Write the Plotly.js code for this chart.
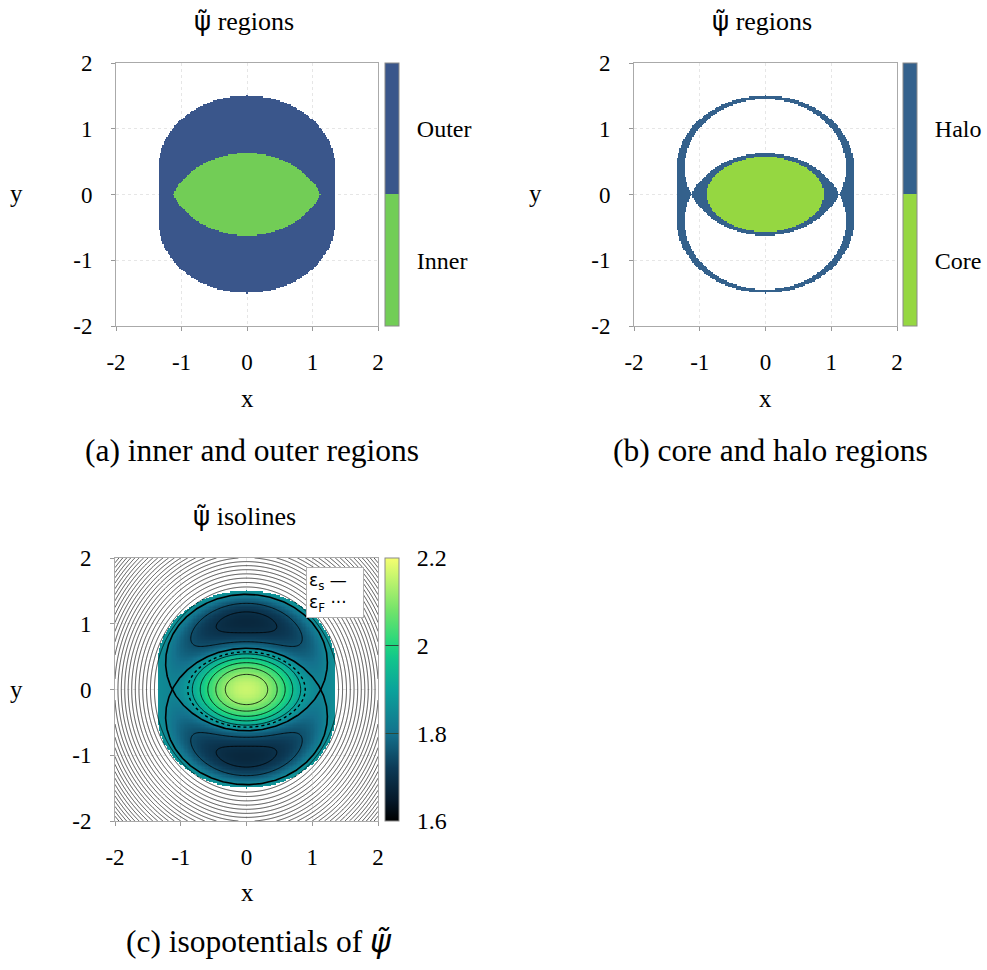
<!DOCTYPE html>
<html><head><meta charset="utf-8">
<script src="https://cdn.plot.ly/plotly-3.0.1.min.js"></script>
<style>html,body{margin:0;padding:0;background:#fff}#chart{width:987px;height:970px}</style>
</head><body><div id="chart"></div>
<script>
// ---------- values ----------
const axisTicks = [-2, -1, 0, 1, 2];
const axisTickText = ['-2', '-1', '0', '1', '2'];
const regionNamesA = ['Inner', 'Outer'];
const regionNamesB = ['Core', 'Halo'];
const regionColorsA = ['#72cd56', '#3a568b'];
const regionColorsB = ['#95d741', '#34618c'];
const psiTicks = [1.6, 1.8, 2.0, 2.2];
const psiTickText = ['1.6', '1.8', '2', '2.2'];
// separatrix (eps_s) ellipses: centres on the y axis and semi-axes [a, b]
const separatrixCentresY = [0.41, -0.41];
const separatrixSemiAxes = [1.23, 1.0375];
// outer boundary of the coloured region: half-width and cap semi-height
const regionSemiAxes = [1.35, 1.09];
// psi values
const psiSeparatrix = 1.84;   // eps_s
const psiFermi = 1.885;       // eps_F (dotted)
const psiCentre = 2.16;
const psiWellMin = 1.68;
const psiRim = 1.875;
const wellSkew = 0.6;
const lensLevels = [1.91, 2.11, 0.05];   // start, end, step
const wellLevels = [1.70, 1.75, 0.05];
// isolines outside the region
const outerIsoFirstRadius = 1.40;
const outerIsoAspect = 1.114;
const outerIsoExponent = 1.6;
const outerIsoStep = 0.121;
// colour scale of panel (c)
const psiColors = [
  [0, '#000000'], [0.08, '#06192a'], [0.2, '#0c3a56'], [0.333, '#14718d'],
  [0.5, '#0ba39b'], [0.62, '#13c68b'], [0.667, '#1fd67e'], [0.8, '#72e36a'], [1, '#f6ff70']
];

// ---------- grid ----------
const N = 201;
const xs = [], ys = [];
for (let i = 0; i < N; i++) { xs.push(-2 + 4 * i / (N - 1)); ys.push(-2 + 4 * i / (N - 1)); }
const A = separatrixSemiAxes[0], B = separatrixSemiAxes[1], c = separatrixCentresY[0];
const Ao = regionSemiAxes[0], Bo = regionSemiAxes[1];
function inRegion(x, y) {
  const ay = Math.abs(y);
  if (ay <= c) return Math.abs(x) <= Ao;
  return x * x / (Ao * Ao) + (ay - c) * (ay - c) / (Bo * Bo) <= 1;
}
const P = [], K = [];   // shape function and class: 0 lens, 1 well, 2 rim, -1 outside
let maxWell = 0, maxRim = 0;
for (let j = 0; j < N; j++) {
  const pr = [], kr = [];
  for (let i = 0; i < N; i++) {
    const x = xs[i], y = ys[j];
    const t = x * x / (A * A);
    const u1 = t + (y - c) * (y - c) / (B * B), u2 = t + (y + c) * (y + c) / (B * B);
    let p = (1 - u1) * (1 - u2);
    let k;
    if (!inRegion(x, y)) k = -1;
    else if (u1 < 1 && u2 < 1) k = 0;
    else if (u1 < 1 || u2 < 1) {
      k = 1;
      const uin = Math.min(u1, u2), uout = Math.max(u1, u2);
      p = -(1 - uin) * Math.pow(uout - 1, wellSkew);
      maxWell = Math.max(maxWell, -p);
    }
    else { k = 2; maxRim = Math.max(maxRim, p); }
    pr.push(p); kr.push(k);
  }
  P.push(pr); K.push(kr);
}
const kL = (psiCentre - psiSeparatrix) / Math.pow(1 - c * c / (B * B), 2);
const kW = (psiSeparatrix - psiWellMin) / maxWell;
const kR = (psiRim - psiSeparatrix) / maxRim;
const zA = [], zB = [], zPsi = [], zPsiC = [], zOut = [];
for (let j = 0; j < N; j++) {
  const a = [], b = [], s = [], sc = [], o = [];
  for (let i = 0; i < N; i++) {
    const k = K[j][i], p = P[j][i];
    let psi = NaN;
    if (k === 0) psi = psiSeparatrix + kL * p;
    else if (k === 1) psi = psiSeparatrix + kW * p;
    else if (k === 2) psi = psiSeparatrix + kR * p;
    s.push(k < 0 ? NaN : psi);
    sc.push(k < 0 ? psiRim : psi);
    a.push(k < 0 ? NaN : (k === 0 ? 0 : 1));
    b.push(k < 0 || k === 1 ? NaN : (k === 0 && psi > psiFermi ? 0 : 1));
    const rho = Math.sqrt(xs[i] * xs[i] + Math.pow(ys[j] / outerIsoAspect, 2));
    o.push(Math.pow(rho, outerIsoExponent));
  }
  zA.push(a); zB.push(b); zPsi.push(s); zPsiC.push(sc); zOut.push(o);
}
// separatrix ellipses
function ellipse(cy) {
  const ex = [], ey = [];
  for (let n = 0; n <= 360; n++) {
    const th = n * Math.PI / 180;
    ex.push(A * Math.cos(th)); ey.push(cy + B * Math.sin(th));
  }
  return [ex, ey];
}

// ---------- layout helpers ----------
const W = 987, H = 970;
const px = v => v / W, py = v => 1 - v / H;
const SERIF = 'Liberation Serif';
const tickFont = {family: SERIF, size: 23, color: '#000'};
function axis(dom, anchor, isY) {
  return {
    domain: dom, anchor: anchor, range: [-2, 2], tickmode: 'array', tickvals: axisTicks,
    ticktext: axisTickText, ticks: 'outside', ticklen: 4, tickcolor: '#999', showline: true,
    mirror: true, linecolor: '#aaa', linewidth: 1, showgrid: true, gridcolor: '#e6e6e6',
    griddash: 'dot', zeroline: false, tickfont: tickFont, fixedrange: true,
    ticklabelstandoff: isY ? 14 : 11
  };
}
function discreteScale(cols) {
  return [[0, cols[0]], [0.5, cols[0]], [0.5, cols[1]], [1, cols[1]]];
}
const nb = '\u00a0\u00a0';
function cbar(left, centre, len, extra) {
  return Object.assign({
    x: px(left), xanchor: 'left', y: py(centre), yanchor: 'middle',
    len: len / H, lenmode: 'fraction', thickness: 14, thicknessmode: 'pixels',
    xpad: 0, ypad: 0, outlinewidth: 1, outlinecolor: '#8a8a8a',
    tickfont: {family: SERIF, size: 24, color: '#000'}
  }, extra);
}

const traces = [
  {type: 'heatmap', x: xs, y: ys, z: zA, xaxis: 'x', yaxis: 'y', zmin: 0, zmax: 1,
   colorscale: discreteScale(regionColorsA), hoverinfo: 'skip',
   colorbar: cbar(385, 194.5, 263, {tickmode: 'array', tickvals: [0.25, 0.75],
     ticktext: regionNamesA.map(t => nb + t), ticks: ''})},
  {type: 'heatmap', x: xs, y: ys, z: zB, xaxis: 'x2', yaxis: 'y2', zmin: 0, zmax: 1,
   colorscale: discreteScale(regionColorsB), hoverinfo: 'skip',
   colorbar: cbar(903, 194.5, 263, {tickmode: 'array', tickvals: [0.25, 0.75],
     ticktext: regionNamesB.map(t => nb + t), ticks: ''})},
  {type: 'contour', x: xs, y: ys, z: zOut, xaxis: 'x3', yaxis: 'y3', showscale: false,
   contours: {coloring: 'none', start: Math.pow(outerIsoFirstRadius, outerIsoExponent), end: 8, size: outerIsoStep},
   line: {color: '#000', width: 0.7, smoothing: 0}, hoverinfo: 'skip'},
  {type: 'heatmap', x: xs, y: ys, z: zPsi, xaxis: 'x3', yaxis: 'y3', zmin: 1.6, zmax: 2.2,
   colorscale: psiColors, hoverinfo: 'skip',
   colorbar: cbar(385, 689.5, 263, {tickmode: 'array', tickvals: psiTicks,
     ticktext: psiTickText.map(t => nb + t), ticks: 'inside', ticklen: 14, tickcolor: '#2a4a3a', tickwidth: 1})},
  {type: 'contour', x: xs, y: ys, z: zPsiC, xaxis: 'x3', yaxis: 'y3', showscale: false,
   contours: {coloring: 'none', start: lensLevels[0], end: lensLevels[1], size: lensLevels[2]},
   line: {color: '#000', width: 0.8}, hoverinfo: 'skip'},
  {type: 'contour', x: xs, y: ys, z: zPsiC, xaxis: 'x3', yaxis: 'y3', showscale: false,
   contours: {coloring: 'none', start: wellLevels[0], end: wellLevels[1], size: wellLevels[2]},
   line: {color: '#000', width: 0.8}, hoverinfo: 'skip'},
  {type: 'contour', x: xs, y: ys, z: zPsiC, xaxis: 'x3', yaxis: 'y3', showscale: false,
   contours: {coloring: 'none', start: psiFermi, end: psiFermi, size: 1},
   line: {color: '#000', width: 1.4, dash: 'dot'}, hoverinfo: 'skip', name: '\u03b5F'},
];
separatrixCentresY.forEach(cy => {
  const e = ellipse(cy);
  traces.push({type: 'scatter', mode: 'lines', x: e[0], y: e[1], xaxis: 'x3', yaxis: 'y3',
    line: {color: '#000', width: 1.6}, showlegend: false, hoverinfo: 'skip', name: '\u03b5s'});
});

const capFont = {family: 'Liberation Serif', size: 31.5, color: '#000'};
const titleFont = {family: SERIF, size: 26, color: '#000'};
const labFont = {family: SERIF, size: 25, color: '#000'};
function ann(text, x, y, font, extra) {
  return Object.assign({text: text, x: px(x), y: py(y), xref: 'paper', yref: 'paper',
    showarrow: false, xanchor: 'center', yanchor: 'middle', font: font}, extra || {});
}
const psiT = '<span style="font-family:DejaVu Sans">\u03c8\u0303</span>';
const annotations = [
  ann(psiT + ' regions', 244, 21, titleFont),
  ann(psiT + ' regions', 762, 21, titleFont),
  ann(psiT + ' isolines', 244, 516, titleFont),
  ann('x', 247, 398, labFont), ann('x', 765, 398, labFont), ann('x', 247, 892, labFont),
  ann('y', 16, 194, labFont), ann('y', 535, 194, labFont), ann('y', 16, 689, labFont),
  ann('(a) inner and outer regions', 252, 450, capFont),
  ann('(b) core and halo regions', 770, 450, capFont),
  ann('(c) isopotentials of <i><span style="font-family:DejaVu Sans">\u03c8\u0303</span></i>', 259, 941, capFont),
  ann('\u03b5<sub>s</sub> \u2014<br>\u03b5<sub>F</sub> \u00b7\u00b7\u00b7', 334.7, 592.5,
    {family: 'DejaVu Sans', size: 17, color: '#000'},
    {bgcolor: '#fff', bordercolor: '#b0b0b0', borderwidth: 1, borderpad: 2, align: 'left', width: 52})
];

const layout = {
  width: W, height: H, margin: {l: 0, r: 0, t: 0, b: 0}, paper_bgcolor: '#fff', plot_bgcolor: '#fff',
  showlegend: false,
  xaxis: axis([px(116), px(378)], 'y', false), yaxis: axis([py(326), py(63)], 'x', true),
  xaxis2: axis([px(634), px(897)], 'y2', false), yaxis2: axis([py(326), py(63)], 'x2', true),
  xaxis3: axis([px(115), px(378)], 'y3', false), yaxis3: axis([py(821), py(558)], 'x3', true),
  annotations: annotations
};
Plotly.newPlot('chart', traces, layout, {staticPlot: true, displayModeBar: false});
</script></body></html>
